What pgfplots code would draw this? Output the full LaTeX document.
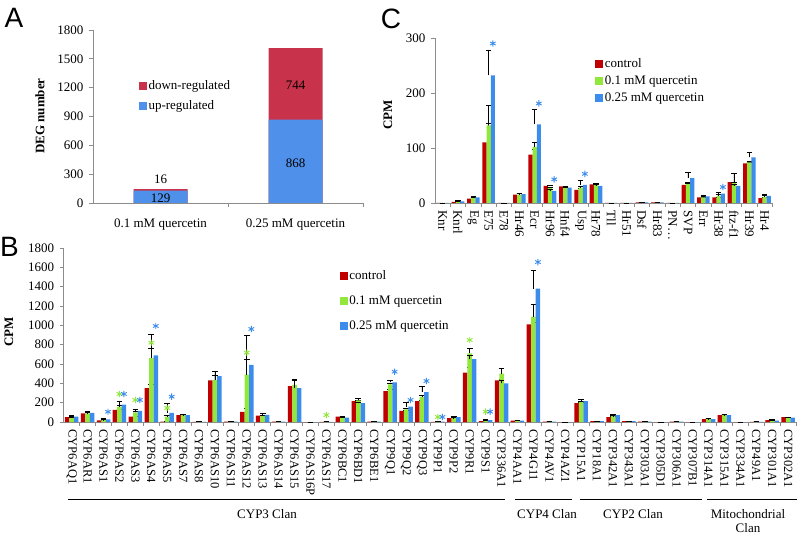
\documentclass[border=0pt]{standalone}
\usepackage{pgfplots}
\usepackage{pgfplotstable}
\pgfplotsset{compat=1.18}
\usepackage{fontspec}
\setmainfont{Liberation Serif}
\newfontfamily\panelfont{Liberation Sans}
\definecolor{ctrl}{HTML}{C00000}
\definecolor{qlow}{HTML}{92E83A}
\definecolor{qhigh}{HTML}{3C8CEC}
\definecolor{downc}{HTML}{C8334B}
\definecolor{upc}{HTML}{4F90EA}
\definecolor{axgray}{HTML}{8C8C8C}
\newcommand{\lab}{\fontsize{13}{15}\selectfont}
\newcommand{\smalllab}{\fontsize{12.5}{14}\selectfont}

% Panel B: CYP genes (control, 0.1 mM, 0.25 mM) with errors
\pgfplotstableread{
x c cE l lE h hE
0 50 5 45 5 55 12
1 90 8 90 8 95 15
2 18 3 22 3 28 5
3 125 10 160 15 180 30
4 55 5 100 10 115 12
5 350 35 660 105 690 220
6 3 3 55 15 95 100
7 70 5 70 5 70 5
8 2 0 2 0 2 0
9 430 55 435 50 475 45
10 3 0 3 0 3 0
11 105 35 490 160 590 310
12 65 5 65 5 75 10
13 3 0 3 0 3 0
14 370 75 385 50 350 85
15 0 0 0 0 0 0
16 2 0 3 0 2 0
17 55 5 50 5 45 5
18 215 10 225 20 195 10
19 3 0 3 0 3 0
20 320 15 390 15 410 25
21 115 10 130 10 160 40
22 215 10 260 15 310 55
23 2 0 3 0 3 0
24 40 5 40 5 50 5
25 510 60 710 50 650 40
26 8 3 15 3 20 3
27 430 10 500 60 400 30
28 15 3 15 3 15 3
29 1010 20 1090 125 1380 185
30 3 0 3 0 3 0
31 0 0 0 0 0 0
32 195 10 205 10 215 15
33 8 2 8 2 8 2
34 50 5 60 5 70 5
35 8 2 8 2 8 2
36 3 0 3 0 3 0
37 0 0 0 0 0 0
38 3 0 3 0 3 0
39 0 0 0 0 0 0
40 30 3 30 3 30 3
41 70 5 75 5 70 5
42 0 0 0 0 0 0
43 2 0 2 0 2 0
44 20 3 20 3 15 3
45 50 3 50 3 45 3
}\tabB

% Panel C: nuclear receptors
\pgfplotstableread{
x c cE l lE h hE
0 0 0 0 0 0 0
1 2 1 2 1 3 1
2 8 2 9 2 10 2
3 110 34 141 36 232 45
4 0 0 0 0 0 0
5 15 2 15 2 16 2
6 88 10 102 9 143 28
7 31 1 27 2 22 2
8 30 1 28 1 28 1
9 24 2 28 2 33 8
10 34 2 33 2 31 2
11 0 0 0 0 0 0
12 0 0 0 0 0 0
13 1 0 1 0 1 0
14 1 0 1 0 1 0
15 0 0 0 0 0 0
16 33 4 35 1 45 11
17 10 1 10 2 12 2
18 10 1 13 2 17 2
19 38 16 36 2 31 3
20 72 2 74 2 83 9
21 9 2 11 2 13 2
}\tabC

\pgfplotsset{
  panel/.style={
    scale only axis, anchor=south west, clip=false,
    axis lines*=left,
    axis line style={axgray, line width=0.8pt},
    tick align=outside,
    major tick length=4pt, minor tick length=4pt,
    every tick/.append style={axgray, line width=0.8pt},
    major x tick style={draw=none},
    ymin=0,
    /pgf/number format/assume math mode=true,
    /pgf/number format/1000 sep={},
    yticklabel style={font=\lab, xshift=-2pt},
    xticklabel style={font=\lab},
    legend cell align=left,
    legend image code/.code={\fill[##1] (0pt,-3.5pt) rectangle (7pt,3.5pt);},
    legend style={draw=none, fill=none, inner sep=0pt, font=\lab, anchor=north west},
  },
  cbar/.style={ybar, draw=none, forget plot,
    error bars/y dir=plus, error bars/y explicit,
    error bars/error mark=-,
    error bars/error bar style={black, line width=0.7pt},
    error bars/error mark options={rotate=90, black, line width=0.7pt, mark size=2.8pt}},
  star/.style={only marks, mark=asterisk, mark size=3.2pt, line width=0.9pt, forget plot},
}

\begin{document}
\begin{tikzpicture}
\useasboundingbox (0pt,0pt) rectangle (800pt,538pt);

% ---------------- Panel A ----------------
\begin{axis}[panel, at={(93pt,335pt)}, width=270pt, height=173pt,
  xmin=0.5, xmax=2.5, ymax=1800, ytick={0,300,...,1800},
  xtick={1,2}, xticklabels={0.1 mM quercetin, 0.25 mM quercetin},
  minor xtick={1.5,2.5},
  xticklabel style={yshift=-8pt},
  legend style={at={(0.17,0.72)}, row sep=5pt}]
\addplot[ybar, bar width=54pt, fill=downc, draw=none, forget plot] coordinates {(1,145) (2,1612)};
\addplot[ybar, bar width=54pt, fill=upc, draw=none, forget plot] coordinates {(1,129) (2,868)};
\node[font=\lab] at (axis cs:1,52) {129};
\node[font=\lab] at (axis cs:1,250) {16};
\node[font=\lab] at (axis cs:2,416) {868};
\node[font=\lab] at (axis cs:2,1227) {744};
\addlegendimage{downc}\addlegendentry{down-regulated}
\addlegendimage{upc}\addlegendentry{up-regulated}
\end{axis}

% ---------------- Panel C ----------------
\begin{axis}[panel, at={(435pt,335pt)}, width=337.3pt, height=165pt,
  xmin=-0.5, xmax=21.5, ymax=300, ytick={0,100,200,300},
  xtick={0,...,21},
  xticklabels={Knr,Knrl,Eg,E75,E78,Hr46,Ecr,Hr96,Hnf4,Usp,Hr78,Tll,Hr51,Dsf,Hr83,PN…,SVP,Err,Hr38,ftz-f1,Hr39,Hr4},
  minor xtick={0.5,1.5,...,21.5},
  xticklabel style={rotate=-90, anchor=west},
  legend style={at={(0.475,0.89)}, row sep=3pt, nodes={inner sep=2pt}}]
\addplot[cbar, fill=ctrl, bar width=4.2pt, bar shift=-4.2pt] table[x=x, y=c, y error=cE] {\tabC};
\addplot[cbar, fill=qlow, bar width=4.2pt, bar shift=0pt] table[x=x, y=l, y error=lE] {\tabC};
\addplot[cbar, fill=qhigh, bar width=4.2pt, bar shift=4.2pt] table[x=x, y=h, y error=hE] {\tabC};
\addplot[star, qhigh] coordinates {(3.274,290) (6.274,181) (7.274,43) (9.274,53) (18.274,29)};
\addlegendimage{ctrl}\addlegendentry{control}
\addlegendimage{qlow}\addlegendentry{0.1 mM quercetin}
\addlegendimage{qhigh}\addlegendentry{0.25 mM quercetin}
\end{axis}

% ---------------- Panel B ----------------
\begin{axis}[panel, at={(63.7pt,116pt)}, width=732.4pt, height=174pt,
  xmin=-0.5, xmax=45.5, ymax=1800, ytick={0,200,...,1800},
  xtick={0,...,45},
  xticklabels={CYP6AQ1,CYP6AR1,CYP6AS1,CYP6AS2,CYP6AS3,CYP6AS4,CYP6AS5,CYP6AS7,CYP6AS8,CYP6AS10,CYP6AS11,CYP6AS12,CYP6AS13,CYP6AS14,CYP6AS15,CYP6AS16P,CYP6AS17,CYP6BC1,CYP6BD1,CYP6BE1,CYP9Q1,CYP9Q2,CYP9Q3,CYP9P1,CYP9P2,CYP9R1,CYP9S1,CYP336A1,CYP4AA1,CYP4G11,CYP4AV1,CYP4AZ1,CYP15A1,CYP18A1,CYP342A1,CYP343A1,CYP303A1,CYP305D1,CYP306A1,CYP307B1,CYP314A1,CYP315A1,CYP334A1,CYP49A1,CYP301A1,CYP302A1},
  minor xtick={0.5,1.5,...,45.5},
  xticklabel style={rotate=-90, anchor=west, font=\smalllab},
  legend style={at={(0.377,0.885)}, row sep=11pt}]
\addplot[cbar, fill=ctrl, bar width=4.5pt, bar shift=-4.5pt] table[x=x, y=c, y error=cE] {\tabB};
\addplot[cbar, fill=qlow, bar width=4.5pt, bar shift=0pt] table[x=x, y=l, y error=lE] {\tabB};
\addplot[cbar, fill=qhigh, bar width=4.5pt, bar shift=4.5pt] table[x=x, y=h, y error=hE] {\tabB};
\addplot[star, qlow] coordinates {(3,290) (4,228) (5,820) (6,145) (11,717) (16,72) (23,52) (25,848) (26,107)};
\addplot[star, qhigh] coordinates {(2.283,106) (3.283,290) (4.283,228) (5.283,993) (6.283,262) (11.283,962) (20.283,520) (21.283,228) (22.283,424) (23.283,52) (26.283,107) (29.283,1654)};
\addlegendimage{ctrl}\addlegendentry{control}
\addlegendimage{qlow}\addlegendentry{0.1 mM quercetin}
\addlegendimage{qhigh}\addlegendentry{0.25 mM quercetin}
\end{axis}

% ---------------- labels ----------------
\node[font=\panelfont\fontsize{28}{30}\selectfont] at (14pt,520pt) {A};
\node[font=\panelfont\fontsize{28}{30}\selectfont] at (9.5pt,291.5pt) {B};
\node[font=\panelfont\fontsize{28}{30}\selectfont] at (391pt,519pt) {C};
\node[rotate=90, font=\lab\bfseries] at (40pt,422pt) {DEG number};
\node[rotate=90, font=\lab\bfseries] at (388pt,423pt) {CPM};
\node[rotate=90, font=\lab\bfseries] at (9pt,206pt) {CPM};

% clan brackets
\draw[black, line width=1pt] (68pt,39pt) -- (505pt,39pt);
\draw[black, line width=1pt] (515pt,39pt) -- (572pt,39pt);
\draw[black, line width=1pt] (580pt,39pt) -- (702pt,39pt);
\draw[black, line width=1pt] (707pt,39pt) -- (797pt,39pt);
\node[font=\lab] at (267pt,24pt) {CYP3 Clan};
\node[font=\lab] at (547pt,24pt) {CYP4 Clan};
\node[font=\lab] at (633pt,24pt) {CYP2 Clan};
\node[font=\fontsize{13}{14}\selectfont, align=center] at (748pt,17pt) {Mitochondrial\\Clan};
\end{tikzpicture}
\end{document}
